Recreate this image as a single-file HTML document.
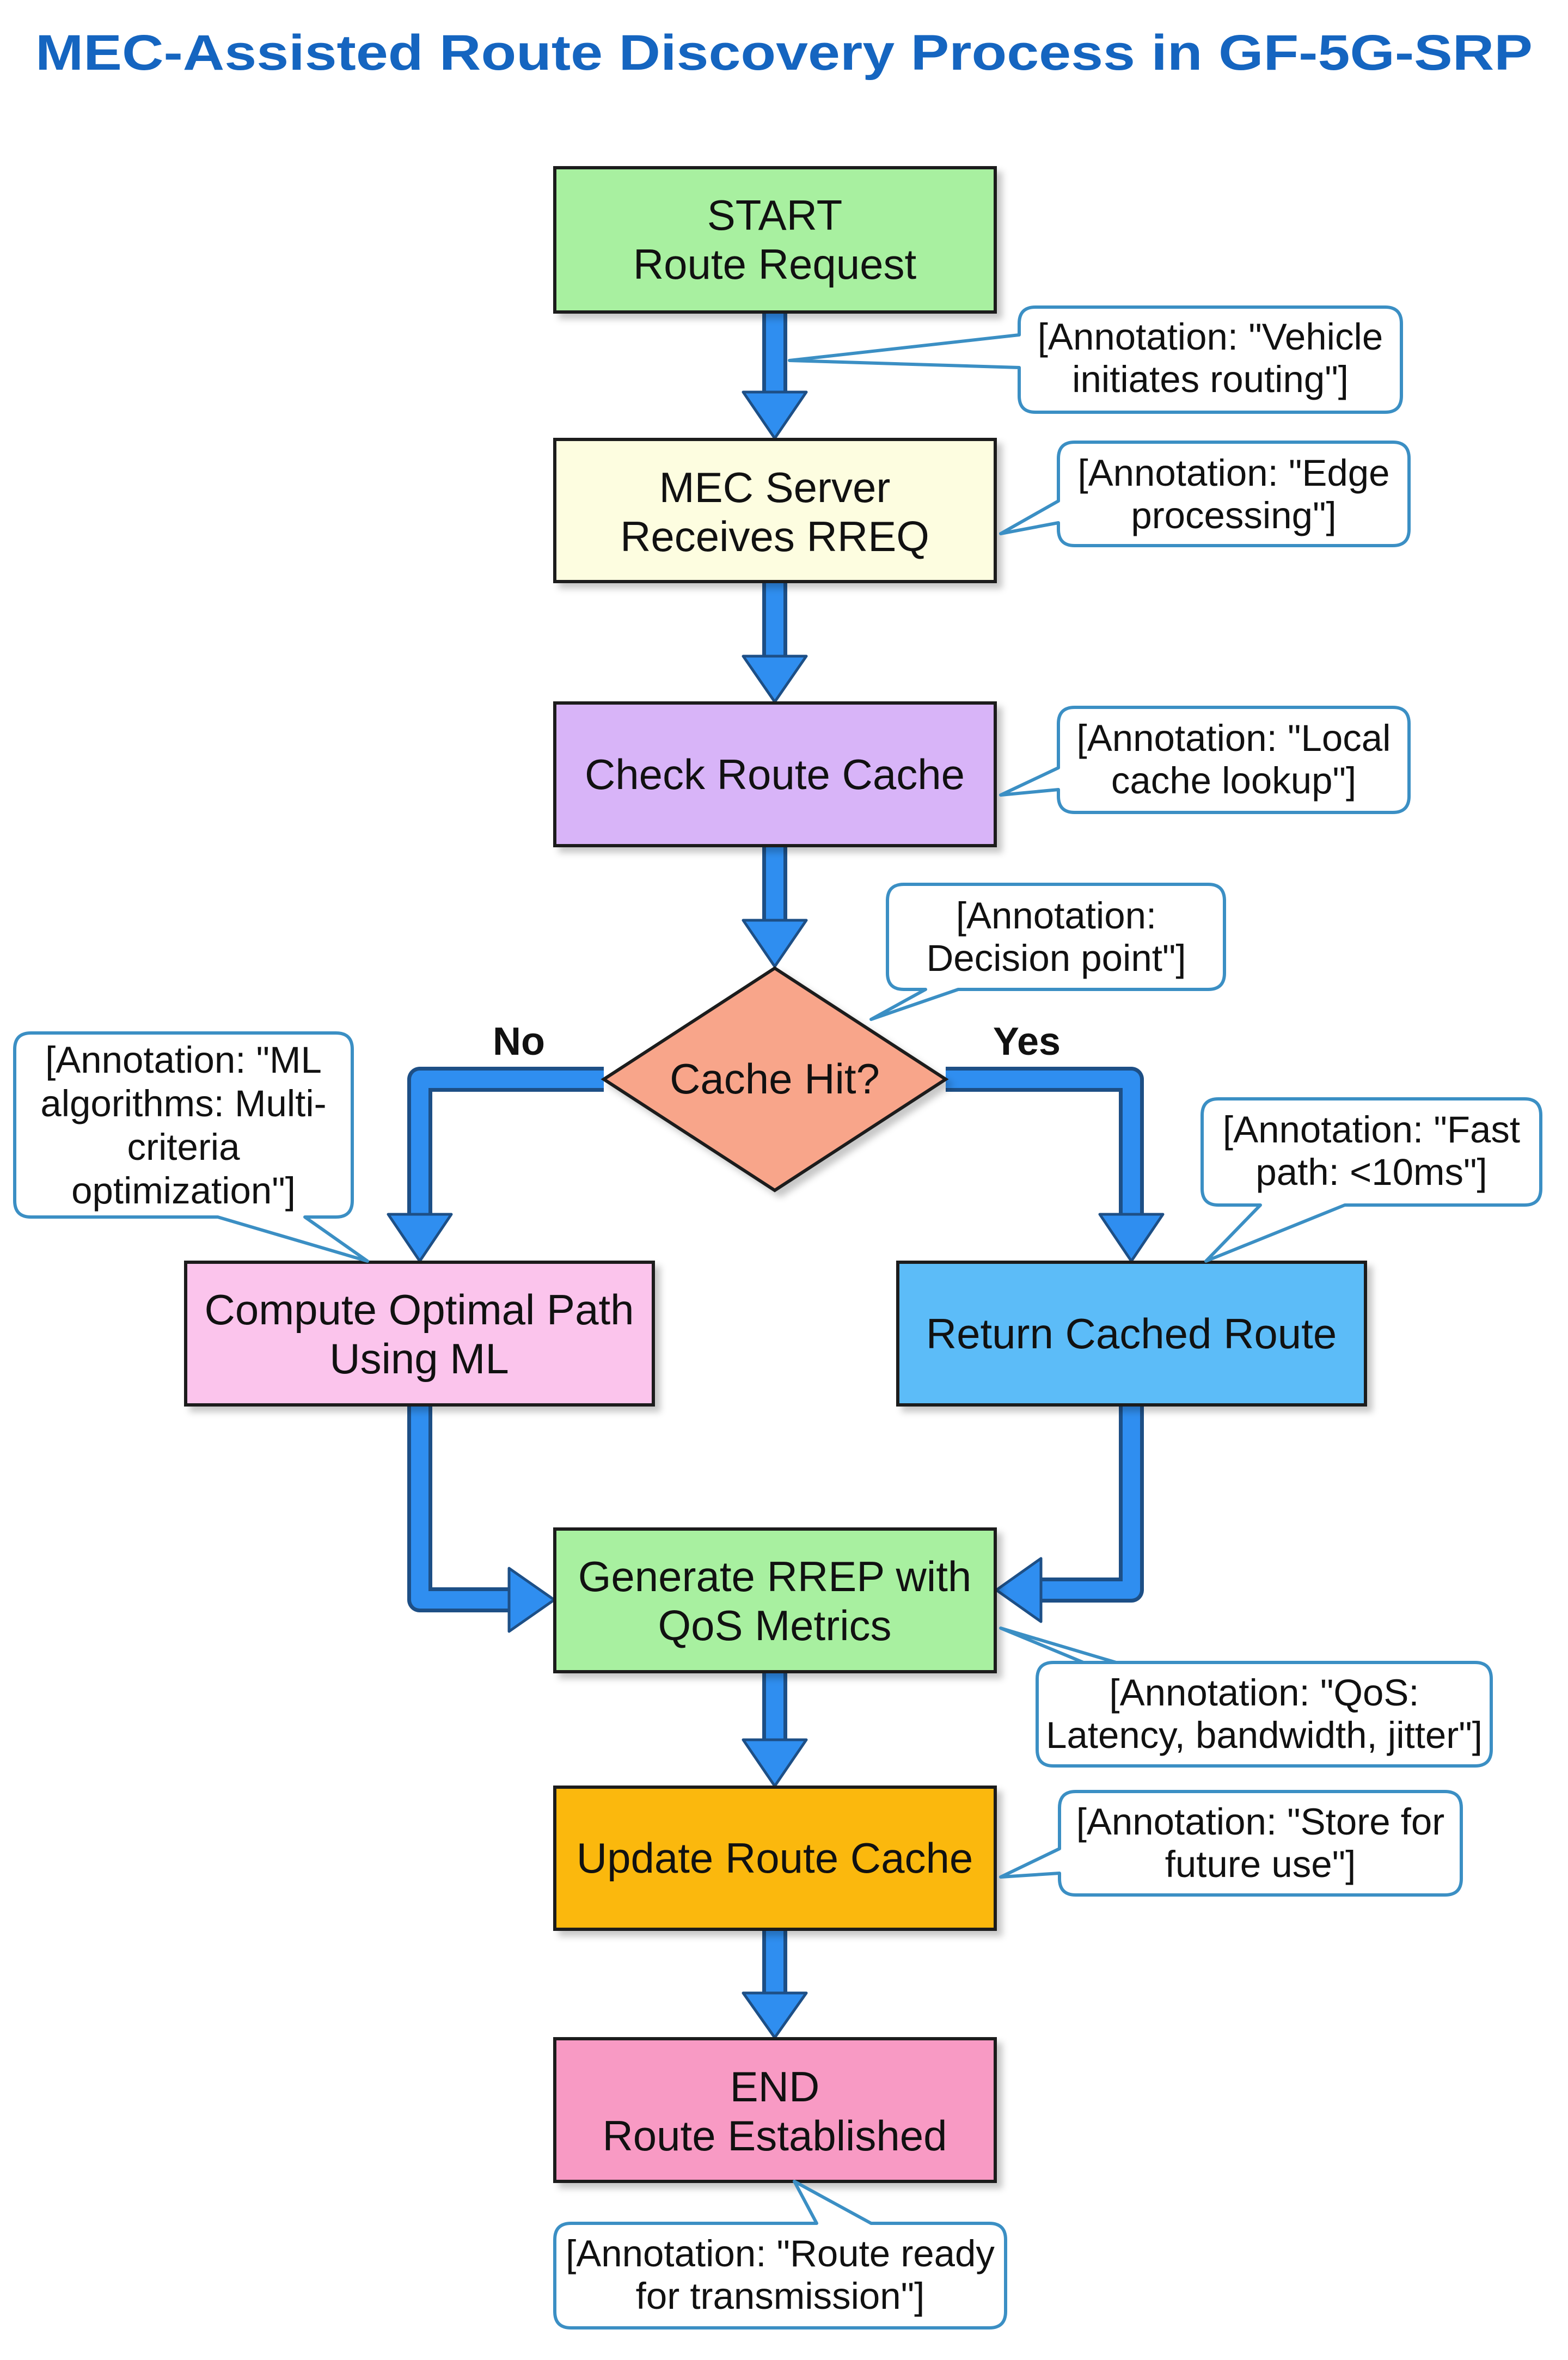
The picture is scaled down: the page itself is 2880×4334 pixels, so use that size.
<!DOCTYPE html>
<html><head><meta charset="utf-8"><style>
html,body{margin:0;padding:0;background:#fff}
svg{display:block}
text{font-family:"Liberation Sans",sans-serif}
</style></head><body>
<svg width="2880" height="4334" viewBox="0 0 2880 4334" xmlns="http://www.w3.org/2000/svg">
<defs>
<filter id="sh" x="-10%" y="-10%" width="130%" height="130%"><feDropShadow dx="10" dy="10" stdDeviation="6" flood-color="#000" flood-opacity="0.22"/></filter>
</defs>
<text x="1440" y="128" text-anchor="middle" font-size="92" font-weight="bold" fill="#1565c0" textLength="2750" lengthAdjust="spacingAndGlyphs">MEC-Assisted Route Discovery Process in GF-5G-SRP</text>

<g fill="none" stroke-linejoin="round" stroke-linecap="butt">
<g stroke="#1d4f86" stroke-width="46">
<path d="M1423 573 V740"/><path d="M1423 1068 V1220"/><path d="M1423 1553 V1700"/>
<path d="M1109 1982 H771 V2240"/><path d="M1737 1982 H2078 V2240"/>
<path d="M771 2580 V2938 H940"/><path d="M2078 2580 V2920 H1900"/>
<path d="M1423 3070 V3210"/><path d="M1423 3543 V3670"/>
</g>
<g stroke="#2f8ef0" stroke-width="32">
<path d="M1423 573 V740"/><path d="M1423 1068 V1220"/><path d="M1423 1553 V1700"/>
<path d="M1109 1982 H771 V2240"/><path d="M1737 1982 H2078 V2240"/>
<path d="M771 2580 V2938 H940"/><path d="M2078 2580 V2920 H1900"/>
<path d="M1423 3070 V3210"/><path d="M1423 3543 V3670"/>
</g>
</g>
<g fill="#2f8ef0" stroke="#1d4f86" stroke-width="5" stroke-linejoin="round">
<polygon points="1365,720 1481,720 1423,805"/>
<polygon points="1365,1205 1481,1205 1423,1289"/>
<polygon points="1365,1690 1481,1690 1423,1775"/>
<polygon points="713,2230 829,2230 771,2316"/>
<polygon points="2020,2230 2136,2230 2078,2316"/>
<polygon points="935,2880 935,2996 1018,2938"/>
<polygon points="1912,2862 1912,2978 1830,2920"/>
<polygon points="1365,3195 1481,3195 1423,3280"/>
<polygon points="1365,3660 1481,3660 1423,3742"/>
</g>

<g stroke="#1a1a1a" stroke-width="6" filter="url(#sh)">
<rect x="1019" y="308" width="809" height="265" fill="#a8f0a0"/>
<rect x="1019" y="807" width="809" height="261" fill="#fdfde0"/>
<rect x="1019" y="1291" width="809" height="262" fill="#d8b4f8"/>
<polygon points="1423,1778 1737,1982 1423,2186 1109,1982" fill="#f8a58a"/>
<rect x="341" y="2318" width="859" height="262" fill="#fbc4ec"/>
<rect x="1649" y="2318" width="859" height="262" fill="#5bbcf8"/>
<rect x="1019" y="2808" width="809" height="262" fill="#a8f0a0"/>
<rect x="1019" y="3282" width="809" height="261" fill="#fbb810"/>
<rect x="1019" y="3744" width="809" height="262" fill="#f89ac4"/>
</g>
<g font-size="78" fill="#111" text-anchor="middle">
<text x="1423" y="422">START</text><text x="1423" y="512">Route Request</text>
<text x="1423" y="922">MEC Server</text><text x="1423" y="1012">Receives RREQ</text>
<text x="1423" y="1449">Check Route Cache</text>
<text x="1423" y="2008">Cache Hit?</text>
<text x="770" y="2432">Compute Optimal Path</text><text x="770" y="2522">Using ML</text>
<text x="2078" y="2476">Return Cached Route</text>
<text x="1423" y="2922">Generate RREP with</text><text x="1423" y="3012">QoS Metrics</text>
<text x="1423" y="3439">Update Route Cache</text>
<text x="1423" y="3859">END</text><text x="1423" y="3949">Route Established</text>
</g>
<g font-size="72" font-weight="bold" fill="#111" text-anchor="middle">
<text x="953" y="1937">No</text><text x="1886" y="1937">Yes</text>
</g>

<g fill="#fff" stroke="#3b8fc4" stroke-width="6" stroke-linejoin="round">
<path d="M1902 564 H2544 Q2574 564 2574 594 V727 Q2574 757 2544 757 H1902 Q1872 757 1872 727 V675 L1450 662 L1872 615 V594 Q1872 564 1902 564 Z"/>
<path d="M1974 812 H2558 Q2588 812 2588 842 V972 Q2588 1002 2558 1002 H1974 Q1944 1002 1944 972 V960 L1838 980 L1944 920 V842 Q1944 812 1974 812 Z"/>
<path d="M1974 1299 H2558 Q2588 1299 2588 1329 V1462 Q2588 1492 2558 1492 H1974 Q1944 1492 1944 1462 V1450 L1838 1460 L1944 1410 V1329 Q1944 1299 1974 1299 Z"/>
<path d="M1660 1624 H2219 Q2249 1624 2249 1654 V1787 Q2249 1817 2219 1817 H1760 L1600 1872 L1700 1817 H1660 Q1630 1817 1630 1787 V1654 Q1630 1624 1660 1624 Z"/>
<path d="M57 1897 H617 Q647 1897 647 1927 V2205 Q647 2235 617 2235 H560 L675 2316 L400 2235 H57 Q27 2235 27 2205 V1927 Q27 1897 57 1897 Z"/>
<path d="M2238 2018 H2800 Q2830 2018 2830 2048 V2183 Q2830 2213 2800 2213 H2470 L2215 2316 L2315 2213 H2238 Q2208 2213 2208 2183 V2048 Q2208 2018 2238 2018 Z"/>
<path d="M1935 3053 H2709 Q2739 3053 2739 3083 V3213 Q2739 3243 2709 3243 H1935 Q1905 3243 1905 3213 V3083 Q1905 3053 1935 3053 H2050 L1838 2990 L1990 3053 Z"/>
<path d="M1976 3290 H2654 Q2684 3290 2684 3320 V3450 Q2684 3480 2654 3480 H1976 Q1946 3480 1946 3450 V3440 L1838 3447 L1946 3395 V3320 Q1946 3290 1976 3290 Z"/>
<path d="M1049 4083 H1500 L1459 4006 L1600 4083 H1817 Q1847 4083 1847 4113 V4245 Q1847 4275 1817 4275 H1049 Q1019 4275 1019 4245 V4113 Q1019 4083 1049 4083 Z"/>
</g>
<g font-size="69" fill="#111" text-anchor="middle">
<text x="2223" y="642">[Annotation: "Vehicle</text><text x="2223" y="720">initiates routing"]</text>
<text x="2266" y="892">[Annotation: "Edge</text><text x="2266" y="970">processing"]</text>
<text x="2266" y="1379">[Annotation: "Local</text><text x="2266" y="1457">cache lookup"]</text>
<text x="1940" y="1705">[Annotation:</text><text x="1940" y="1783">Decision point"]</text>
<text x="337" y="1970">[Annotation: "ML</text><text x="337" y="2050">algorithms: Multi-</text><text x="337" y="2130">criteria</text><text x="337" y="2210">optimization"]</text>
<text x="2519" y="2098">[Annotation: "Fast</text><text x="2519" y="2176">path: &lt;10ms"]</text>
<text x="2322" y="3132">[Annotation: "QoS:</text><text x="2322" y="3210">Latency, bandwidth, jitter"]</text>
<text x="2315" y="3369">[Annotation: "Store for</text><text x="2315" y="3447">future use"]</text>
<text x="1433" y="4162">[Annotation: "Route ready</text><text x="1433" y="4240">for transmission"]</text>
</g>
</svg>
</body></html>
